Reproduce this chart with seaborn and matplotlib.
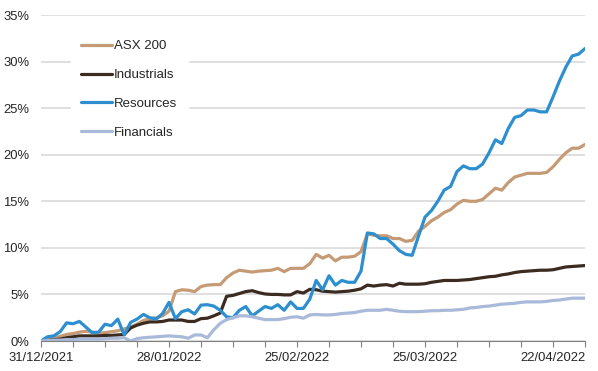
import numpy as np
import pandas as pd
import matplotlib
matplotlib.use("Agg")
import matplotlib.pyplot as plt
import seaborn as sns

# Weekday dates (category axis, one point per weekday)
dates = pd.bdate_range("2021-12-31", "2022-04-29")

asx200 = [0.0, 0.1, 0.3, 0.5, 0.7, 0.8, 0.95, 1.05, 0.95, 0.85,
          0.9, 1.0, 1.1, 1.3, 1.5, 1.8, 2.2, 2.4, 2.5, 2.7,
          3.2, 5.3, 5.5, 5.45, 5.3, 5.85, 6.0, 6.05, 6.05, 6.8,
          7.3, 7.6, 7.5, 7.4, 7.5, 7.55, 7.6, 7.8, 7.45, 7.8,
          7.8, 7.8, 8.3, 9.3, 8.9, 9.2, 8.6, 9.0, 9.0, 9.1,
          9.6, 11.5, 11.35, 11.3, 11.3, 11.0, 11.0, 10.7, 10.8, 11.8,
          12.3, 12.9, 13.3, 13.8, 14.1, 14.7, 15.1, 15.0, 15.0, 15.2,
          15.8, 16.4, 16.2, 17.0, 17.6, 17.8, 18.0, 18.0, 18.0, 18.1,
          18.7, 19.5, 20.2, 20.7, 20.7, 21.1]

industrials = [0.0, 0.05, 0.15, 0.2, 0.35, 0.45, 0.55, 0.55, 0.55, 0.55,
               0.6, 0.6, 0.65, 0.7, 1.4, 1.7, 1.9, 2.05, 2.05, 2.1,
               2.25, 2.25, 2.25, 2.1, 2.1, 2.4, 2.45, 2.7, 3.0, 4.8,
               4.9, 5.1, 5.3, 5.4, 5.2, 5.05, 5.0, 5.0, 4.95, 4.95,
               5.3, 5.15, 5.55, 5.5, 5.35, 5.3, 5.25, 5.3, 5.35, 5.45,
               5.6, 6.0, 5.9, 6.0, 6.05, 5.9, 6.2, 6.1, 6.1, 6.1,
               6.15, 6.3, 6.4, 6.5, 6.5, 6.5, 6.55, 6.6, 6.7, 6.8,
               6.9, 6.95, 7.1, 7.2, 7.35, 7.45, 7.5, 7.55, 7.6, 7.6,
               7.65, 7.8, 7.95, 8.0, 8.05, 8.1]

resources = [0.0, 0.45, 0.55, 1.0, 1.95, 1.85, 2.1, 1.5, 0.9, 0.95,
             1.8, 1.65, 2.35, 0.65, 2.0, 2.35, 2.85, 2.5, 2.35, 2.95,
             4.15, 2.4, 3.15, 3.35, 2.9, 3.85, 3.9, 3.75, 3.3, 2.6,
             2.5, 3.3, 3.7, 2.7, 3.2, 3.7, 3.5, 3.9, 3.3, 4.2,
             3.5, 3.5, 4.5, 6.5, 5.5, 7.0, 6.0, 6.5, 6.3, 6.3,
             7.5, 11.6, 11.5, 11.0, 11.0, 10.4, 9.7, 9.3, 9.2, 11.3,
             13.3, 14.0, 15.0, 16.2, 16.6, 18.2, 18.8, 18.5, 18.5, 19.0,
             20.2, 21.6, 21.2, 22.8, 24.0, 24.2, 24.8, 24.8, 24.6, 24.6,
             26.2, 27.9, 29.4, 30.6, 30.8, 31.4]

financials = [0.0, 0.05, 0.1, 0.1, 0.15, 0.15, 0.2, 0.2, 0.2, 0.2,
              0.25, 0.3, 0.3, 0.35, 0.0, 0.25, 0.35, 0.4, 0.45, 0.5,
              0.55, 0.5, 0.45, 0.3, 0.65, 0.65, 0.35, 1.2, 1.9, 2.3,
              2.5, 2.7, 2.7, 2.6, 2.45, 2.3, 2.3, 2.3, 2.4, 2.55,
              2.6, 2.45, 2.8, 2.85, 2.8, 2.8, 2.85, 2.95, 3.0, 3.05,
              3.2, 3.3, 3.3, 3.3, 3.4, 3.3, 3.2, 3.15, 3.15, 3.15,
              3.2, 3.25, 3.25, 3.3, 3.3, 3.35, 3.4, 3.55, 3.6, 3.7,
              3.75, 3.85, 3.95, 4.0, 4.05, 4.15, 4.2, 4.2, 4.2, 4.25,
              4.35, 4.4, 4.5, 4.6, 4.6, 4.6]

series_names = ["ASX 200", "Industrials", "Resources", "Financials"]
series_values = [asx200, industrials, resources, financials]
colors = ["#C59B76", "#3B2B20", "#2D8FD0", "#A9B9D9"]

y_ticks = [0, 5, 10, 15, 20, 25, 30, 35]
y_tick_labels = [f"{v}%" for v in y_ticks]

frames = []
for name, vals in zip(series_names, series_values):
    frames.append(pd.DataFrame({"idx": np.arange(len(dates)), "date": dates,
                                "value": vals, "series": name}))
df = pd.concat(frames, ignore_index=True)

sns.set_theme(style="white")
plt.rcParams["font.family"] = ["Liberation Sans", "DejaVu Sans"]

fig = plt.figure(figsize=(5.98, 3.71), dpi=100)
ax = fig.add_axes([41 / 598, 1 - 341 / 371, 544 / 598, 326 / 371])

sns.lineplot(data=df, x="idx", y="value", hue="series", hue_order=series_names,
             palette=colors, linewidth=2.3, ax=ax, legend=True)

ax.set_xlim(0, len(dates) - 1)
ax.set_ylim(0, 35)
ax.set_yticks(y_ticks)
ax.set_yticklabels(y_tick_labels)
ax.yaxis.grid(True, color="#D9D9D9", linewidth=1.2)
ax.xaxis.grid(False)
ax.set_axisbelow(True)

major = list(range(0, len(dates), 20))
minor = list(range(0, len(dates), 5))
ax.set_xticks(minor, minor=True)
ax.set_xticks(major)
ax.set_xticklabels([dates[i].strftime("%d/%m/%Y") for i in major])
ax.tick_params(axis="x", which="both", direction="out", length=4, width=0.8,
               color="#808080", labelsize=9.4, labelcolor="#262626", pad=4, bottom=True)
ax.tick_params(axis="y", length=0, labelsize=9.4, labelcolor="#262626", pad=8.5)

for s in ["top", "right", "left"]:
    ax.spines[s].set_visible(False)
ax.spines["bottom"].set_color("#808080")
ax.spines["bottom"].set_linewidth(0.8)
ax.set_xlabel("")
ax.set_ylabel("")

handles, labels = ax.get_legend_handles_labels()
leg = ax.legend(handles, labels, loc="upper left", bbox_to_anchor=(0.055, 0.955),
                frameon=True, fontsize=9.5, handlelength=2.3, handletextpad=0.15,
                labelspacing=1.25, borderpad=0.8, borderaxespad=0)
leg.get_frame().set_facecolor("white")
leg.get_frame().set_edgecolor("white")
leg.get_frame().set_alpha(1)
for t in leg.get_texts():
    t.set_color("#262626")

fig.savefig("out.png", dpi=100)
